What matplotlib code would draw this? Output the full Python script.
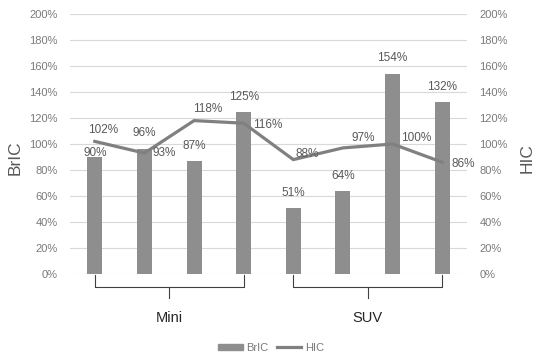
import matplotlib
matplotlib.use("Agg")
import matplotlib.pyplot as plt
import matplotlib.transforms as mtransforms
from matplotlib.patches import Patch
from matplotlib.lines import Line2D
from matplotlib.ticker import PercentFormatter

plt.rcParams['font.family'] = ['Liberation Sans Narrow', 'Liberation Sans', 'DejaVu Sans']

groups = ['Mini', 'SUV']
bric = [90, 96, 87, 125, 51, 64, 154, 132]
hic = [102, 93, 118, 116, 88, 97, 100, 86]

# label offsets in pixels (dx, dy) relative to the mark
bric_off = [(0, 4), (0, 16), (0, 15), (0, 15), (0, 15), (0, 15), (0, 16), (0, 15)]
hic_off = [(8, 11), (20, 0), (14, 12), (24, -2), (14, 6), (20, 10), (24, 6), (21, -2)]

bar_col = '#8e8e8e'
line_col = '#808080'
txt_col = '#7a7a7a'

fig = plt.figure(figsize=(5.34, 3.56), dpi=100)
ax = fig.add_axes([70 / 534, 1 - 274 / 356, 397 / 534, 260 / 356])
ax2 = ax.twinx()

x = list(range(len(bric)))
ax.bar(x, bric, width=0.3, color=bar_col, zorder=2)
ax2.plot(x, hic, color=line_col, lw=2.3, zorder=3)

for a in (ax, ax2):
    a.set_ylim(0, 200)
    a.set_yticks(range(0, 201, 20))
    a.yaxis.set_major_formatter(PercentFormatter(decimals=0))
    a.tick_params(axis='y', length=0, labelsize=8, labelcolor=txt_col, pad=9)
    for s in a.spines.values():
        s.set_visible(False)
ax.set_xlim(-0.5, 7.5)
ax.set_xticks([])
ax.grid(axis='y', color='#d9d9d9', lw=0.8, zorder=0)
ax.set_axisbelow(True)

# axis titles
fig.text(15 / 534, 1 - 158 / 356, 'BrIC', rotation=90, ha='center', va='center',
         fontsize=12.5, color='#595959')
fig.text(527 / 534, 1 - 158 / 356, 'HIC', rotation=90, ha='center', va='center',
         fontsize=12.5, color='#595959')

px = 0.72
for xi, v, (dx, dy) in zip(x, bric, bric_off):
    ax.annotate(f'{v}%', (xi, v), xytext=(dx * px, dy * px), textcoords='offset points',
                ha='center', va='center', fontsize=8.5, color='#595959')
for xi, v, (dx, dy) in zip(x, hic, hic_off):
    ax2.annotate(f'{v}%', (xi, v), xytext=(dx * px, dy * px), textcoords='offset points',
                 ha='center', va='center', fontsize=8.5, color='#595959')

# group brackets under the axis
tr = mtransforms.blended_transform_factory(ax.transData, ax.transAxes)
for i, name in enumerate(groups):
    x0, x1 = i * 4, i * 4 + 3
    xm = (x0 + x1) / 2
    ax.plot([x0, x0, x1, x1], [-0.004, -0.05, -0.05, -0.004], color='#404040', lw=0.8,
            transform=tr, clip_on=False)
    ax.plot([xm, xm], [-0.05, -0.092], color='#404040', lw=0.8, transform=tr, clip_on=False)
    ax.text(xm, -0.17, name, transform=tr, ha='center', va='center', fontsize=10.5,
            color='#262626')

handles = [Patch(color=bar_col), Line2D([], [], color=line_col, lw=2.3)]
fig.legend(handles, ['BrIC', 'HIC'], loc='center', bbox_to_anchor=(271 / 534, 1 - 348 / 356),
           ncol=2, frameon=False, fontsize=8, labelcolor=txt_col, handlelength=2.2,
           handleheight=0.5, handletextpad=0.3, columnspacing=0.8)

fig.savefig('out.png', dpi=100)
